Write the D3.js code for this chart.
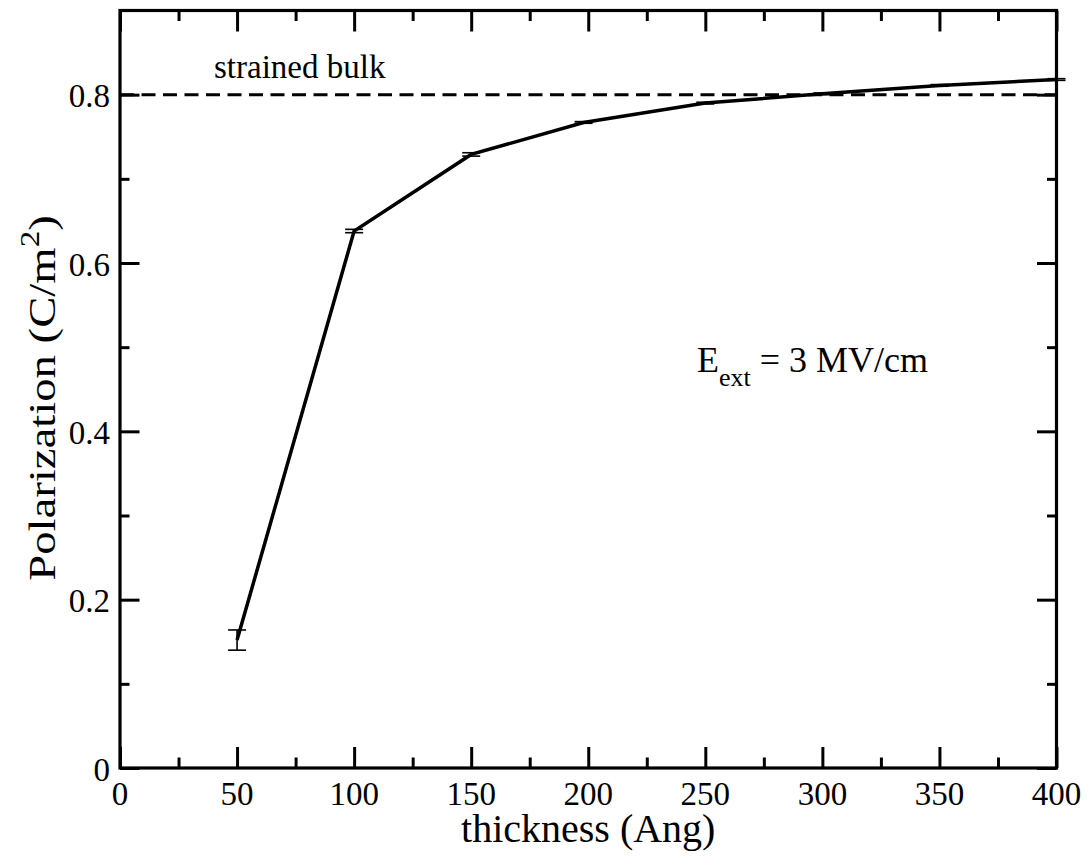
<!DOCTYPE html>
<html>
<head>
<meta charset="utf-8">
<script src="https://cdn.jsdelivr.net/npm/d3@7"></script>
<style>
  html, body { margin: 0; padding: 0; background: #fff; }
  svg { display: block; }
  text { font-family: "Liberation Serif", "Times New Roman", serif; fill: #000; }
</style>
</head>
<body>
<svg id="chart" width="1091" height="866"></svg>
<script>
// Film thickness (Å) and polarization (C/m^2) with error estimates
const thickness    = [50, 100, 150, 198, 250, 300, 350, 400];
const polarization = [0.152, 0.638, 0.729, 0.767, 0.790, 0.801, 0.811, 0.818];
const polError     = [0.012, 0.002, 0.002, 0.001, 0.001, 0.001, 0.001, 0.001];

// Reference: strained bulk polarization
const bulkValue = 0.8;

// Axis ticks
const xMajorTicks = [0, 50, 100, 150, 200, 250, 300, 350, 400];
const xMinorTicks = [25, 75, 125, 175, 225, 275, 325, 375];
const yMajorTicks = [0, 0.2, 0.4, 0.6, 0.8];
const yMinorTicks = [0.1, 0.3, 0.5, 0.7];
const yTickLabels = ["0", "0.2", "0.4", "0.6", "0.8"];

const svg = d3.select("#chart");
const plotLeft = 120, plotRight = 1056.5, plotTop = 10.5, plotBottom = 768;

const x = d3.scaleLinear().domain([0, 400]).range([plotLeft, plotRight]);
const y = d3.scaleLinear().domain([0, 0.9]).range([plotBottom, plotTop]);

const data = thickness.map((t, i) => ({ t, p: polarization[i], e: polError[i] }));

// Dashed bulk reference line
svg.append("line")
  .attr("x1", x(0)).attr("x2", x(400))
  .attr("y1", y(bulkValue)).attr("y2", y(bulkValue))
  .attr("stroke", "#000").attr("stroke-width", 3)
  .attr("stroke-dasharray", "14,7.5");

// Error bars
const eb = svg.append("g").attr("stroke", "#000").attr("stroke-width", 1.6);
data.forEach(d => {
  eb.append("line").attr("x1", x(d.t)).attr("x2", x(d.t))
    .attr("y1", y(d.p - d.e)).attr("y2", y(d.p + d.e));
  [d.p - d.e, d.p + d.e].forEach(v => {
    eb.append("line").attr("x1", x(d.t) - 9).attr("x2", x(d.t) + 9)
      .attr("y1", y(v)).attr("y2", y(v));
  });
});

// Polarization curve
svg.append("path")
  .datum(data)
  .attr("fill", "none").attr("stroke", "#000").attr("stroke-width", 3.5)
  .attr("stroke-linejoin", "miter")
  .attr("d", d3.line().x(d => x(d.t)).y(d => y(d.p)));

// Axes with inward ticks on all four sides
function ticks(axisGen, values, size, transform) {
  const g = svg.append("g").attr("transform", transform)
    .call(axisGen.tickValues(values).tickSize(size).tickFormat(""));
  g.select(".domain").remove();
  g.selectAll(".tick line").attr("stroke", "#000").attr("stroke-width", 3);
  return g;
}
ticks(d3.axisTop(x), xMajorTicks, 21, `translate(0,${plotBottom})`);
ticks(d3.axisTop(x), xMinorTicks, 10.5, `translate(0,${plotBottom})`);
ticks(d3.axisBottom(x), xMajorTicks, 21, `translate(0,${plotTop})`);
ticks(d3.axisBottom(x), xMinorTicks, 10.5, `translate(0,${plotTop})`);
ticks(d3.axisRight(y), yMajorTicks, 19.5, `translate(${plotLeft},0)`);
ticks(d3.axisRight(y), yMinorTicks, 9.5, `translate(${plotLeft},0)`);
ticks(d3.axisLeft(y), yMajorTicks, 19.5, `translate(${plotRight},0)`);
ticks(d3.axisLeft(y), yMinorTicks, 9.5, `translate(${plotRight},0)`);

// Frame
svg.append("rect")
  .attr("x", plotLeft).attr("y", plotTop)
  .attr("width", plotRight - plotLeft).attr("height", plotBottom - plotTop)
  .attr("fill", "none").attr("stroke", "#000").attr("stroke-width", 3.2);

// Tick labels
svg.append("g").selectAll("text").data(xMajorTicks).join("text")
  .attr("x", d => x(d)).attr("y", plotBottom + 37)
  .attr("text-anchor", "middle").attr("font-size", 33)
  .text(d => d);
svg.append("g").selectAll("text").data(yMajorTicks).join("text")
  .attr("x", 110).attr("y", d => y(d) + 12.5)
  .attr("text-anchor", "end").attr("font-size", 33)
  .text((d, i) => yTickLabels[i]);

// Axis titles
svg.append("text")
  .attr("x", (plotLeft + plotRight) / 2).attr("y", 842)
  .attr("text-anchor", "middle").attr("font-size", 40)
  .text("thickness (Ang)");

// Vertical title, drawn taller along its run
const yt = svg.append("text")
  .attr("transform", `translate(55,398) rotate(-90) scale(1.23,1)`)
  .attr("text-anchor", "middle").attr("font-size", 38);
yt.append("tspan").text("Polarization (C/m");
yt.append("tspan").attr("font-size", 27).attr("dy", -16).text("2");
yt.append("tspan").attr("dy", 16).text(")");

// Annotations
svg.append("text")
  .attr("x", 214).attr("y", 78).attr("font-size", 33)
  .text("strained bulk");

const et = svg.append("text")
  .attr("x", 697).attr("y", 372).attr("font-size", 36);
et.append("tspan").text("E");
et.append("tspan").attr("font-size", 26).attr("dy", 14).text("ext");
et.append("tspan").attr("dy", -14).text(" = 3 MV/cm");
</script>
</body>
</html>
